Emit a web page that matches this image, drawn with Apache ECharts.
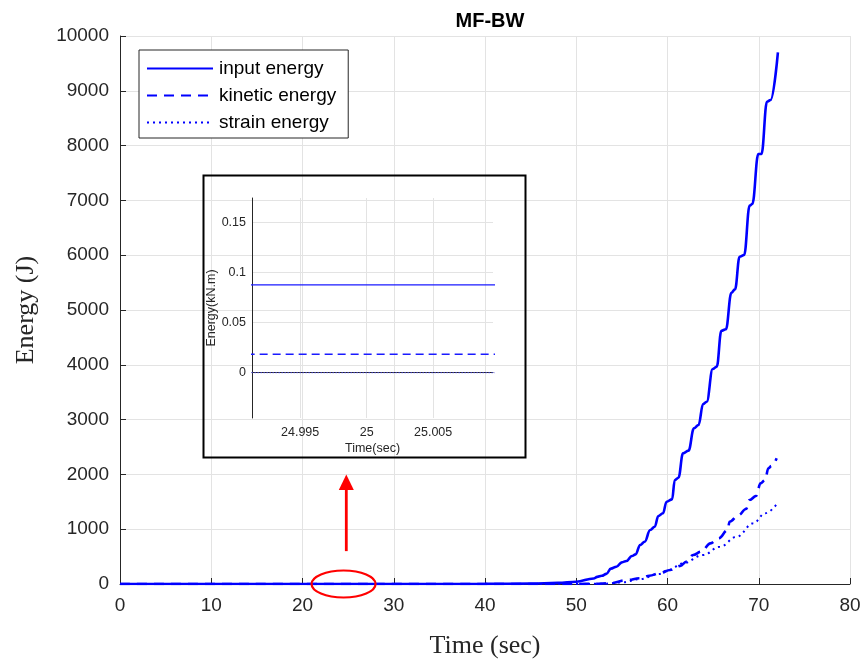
<!DOCTYPE html>
<html><head><meta charset="utf-8">
<script src="https://cdn.jsdelivr.net/npm/echarts@6/dist/echarts.min.js"></script>
<style>html,body{margin:0;padding:0;background:#fff}#c{width:867px;height:664px}</style>
</head><body><div id="c"></div>
<script>
const chartTitle = 'MF-BW';
const seriesNames = ['input energy', 'kinetic energy', 'strain energy'];
const xAxisTitle = 'Time (sec)';
const yAxisTitle = 'Energy (J)';

// main: input energy
const inputT = [0, 20, 40, 45, 48, 50, 51.9, 52.3, 52.8, 53.3, 53.8, 54.4, 55.0, 55.5, 56.1, 56.5, 57.0, 57.5, 58.1, 58.6, 59.0, 59.5, 59.9, 60.5, 60.8, 61.2, 61.7, 62.3, 62.9, 63.4, 63.9, 64.3, 64.95, 65.4, 65.9, 66.4, 67.0, 67.4, 67.9, 68.4, 69.0, 69.3, 69.95, 70.3, 70.9, 71.3, 72.1];
const inputE = [0, 0, 2, 8, 20, 42, 100, 130, 150, 185, 280, 316, 395, 420, 511, 540, 712, 772, 985, 1046, 1241, 1290, 1502, 1545, 1898, 1940, 2385, 2433, 2841, 2901, 3285, 3327, 3923, 3966, 4622, 4648, 5316, 5377, 5973, 6004, 6904, 6934, 7847, 7847, 8801, 8832, 9702];
// main: kinetic energy
const kineticT = [0, 50, 52, 53.7, 55.5, 57.0, 58.0, 59.2, 60.3, 61.4, 62.1, 62.8, 63.7, 64.7, 65.6, 66.6, 66.8, 67.8, 68.6, 69.0, 69.7, 70.2, 70.7, 71.05, 71.4, 71.96];
const kineticE = [0, 0, 5, 15, 70, 105, 150, 200, 255, 330, 410, 530, 590, 742, 833, 985, 1137, 1259, 1368, 1533, 1606, 1837, 1898, 2111, 2153, 2294];
// main: strain energy
const strainT = [0, 50, 53, 55, 57, 59, 60.1, 61.7, 63.9, 65.75, 67.6, 69.4, 70.7, 71.9];
const strainE = [0, 0, 5, 30, 90, 180, 255, 377, 529, 681, 864, 1107, 1290, 1442];

// inset (zoom around t = 25 s)
const insetTitleX = 'Time(sec)';
const insetTitleY = 'Energy(kN.m)';
const insetT = [24.99, 25.01];
const insetInput = [0.0875, 0.0875];
const insetKinetic = [0.0183, 0.0183];
const insetStrain = [0, 0];
const insetXTicks = [24.995, 25, 25.005];
const insetYTicks = [0, 0.05, 0.1, 0.15];

// annotation anchors (data coords)
const ellipseAt = [24.5, 0];
const arrowFrom = [24.8, 600];
const arrowTo = [24.8, 2000];

const zip = (a, b) => a.map((v, i) => [v, b[i]]);
const BLUE = '#0000ff';
const DARK = '#262626';
const GRIDC = '#e3e3e3';

const chart = echarts.init(document.getElementById('c'), null, {renderer: 'canvas'});
const option = {
  backgroundColor: '#fff',
  animation: false,
  title: {
    text: chartTitle, left: 485, top: 6, textAlign: 'center',
    textStyle: {fontFamily: 'Liberation Sans, Arial', fontWeight: 'bold', fontSize: 20, color: '#000'}
  },
  legend: {
    orient: 'vertical', left: 139, top: 50,
    backgroundColor: '#fff', borderColor: DARK, borderWidth: 1,
    padding: [9, 12, 6, 7], itemGap: 8, itemWidth: 66, itemHeight: 20,
    itemStyle: {opacity: 0},
    textStyle: {fontFamily: 'Liberation Sans, Arial', fontSize: 19, color: '#000', padding: [0, 0, 0, 1]},
    data: seriesNames
  },
  grid: [
    {left: 120, right: 17, top: 36, bottom: 80, containLabel: false},
    {left: 252, right: 374, top: 198, bottom: 246, show: true, backgroundColor: '#fff', borderWidth: 0}
  ],
  xAxis: [
    {
      type: 'value', gridIndex: 0, min: 0, max: 80, interval: 10,
      name: xAxisTitle, nameLocation: 'middle', nameGap: 49,
      nameTextStyle: {fontFamily: 'Liberation Serif, Times New Roman', fontSize: 26, color: DARK},
      axisLine: {lineStyle: {color: DARK, width: 1}},
      axisTick: {inside: true, length: 6, lineStyle: {color: DARK}},
      axisLabel: {fontFamily: 'Liberation Sans, Arial', fontSize: 19, color: DARK, margin: 12, formatter: v => String(v)},
      splitLine: {show: true, lineStyle: {color: GRIDC, width: 1}}
    },
    {
      type: 'value', gridIndex: 1, min: 24.99138, max: 25.0095,
      name: insetTitleX, nameLocation: 'middle', nameGap: 24,
      nameTextStyle: {fontFamily: 'Liberation Sans, Arial', fontSize: 12.5, color: DARK},
      axisLine: {lineStyle: {color: DARK, width: 1}},
      axisTick: {show: false, customValues: insetXTicks},
      axisLabel: {customValues: insetXTicks, fontFamily: 'Liberation Sans, Arial', fontSize: 12.5, color: DARK, margin: 8,
        formatter: v => String(+(+v).toFixed(4))},
      splitLine: {show: true, lineStyle: {color: GRIDC, width: 1}}
    }
  ],
  yAxis: [
    {
      type: 'value', gridIndex: 0, min: 0, max: 10000, interval: 1000,
      name: yAxisTitle, nameLocation: 'middle', nameGap: 81,
      nameTextStyle: {fontFamily: 'Liberation Serif, Times New Roman', fontSize: 26, color: DARK},
      axisLine: {show: true, lineStyle: {color: DARK, width: 1}},
      axisTick: {show: true, inside: true, length: 6, lineStyle: {color: DARK}},
      axisLabel: {fontFamily: 'Liberation Sans, Arial', fontSize: 19, color: DARK, margin: 11, formatter: v => String(v)},
      splitLine: {show: true, lineStyle: {color: GRIDC, width: 1}}
    },
    {
      type: 'value', gridIndex: 1, min: -0.0452, max: 0.174,
      name: insetTitleY, nameLocation: 'middle', nameGap: 34,
      nameTextStyle: {fontFamily: 'Liberation Sans, Arial', fontSize: 12.5, color: DARK},
      axisLine: {show: true, lineStyle: {color: DARK, width: 1}},
      axisTick: {show: false, customValues: insetYTicks},
      axisLabel: {customValues: insetYTicks, fontFamily: 'Liberation Sans, Arial', fontSize: 12.5, color: DARK, margin: 6,
        formatter: v => String(+(+v).toFixed(3))},
      splitLine: {show: true, lineStyle: {color: GRIDC, width: 1}}
    }
  ],
  series: [
    {name: seriesNames[0], type: 'line', xAxisIndex: 0, yAxisIndex: 0, data: zip(inputT, inputE),
      showSymbol: false, symbol: 'none', smooth: 0.4, smoothMonotone: 'x',
      lineStyle: {color: BLUE, width: 2.6, type: 'solid'}, itemStyle: {color: BLUE}, z: 3},
    {name: seriesNames[1], type: 'line', xAxisIndex: 0, yAxisIndex: 0, data: zip(kineticT, kineticE),
      showSymbol: false, symbol: 'none', smooth: 0.4, smoothMonotone: 'x',
      lineStyle: {color: BLUE, width: 2.6, type: [10, 7]}, itemStyle: {color: BLUE}, z: 3},
    {name: seriesNames[2], type: 'line', xAxisIndex: 0, yAxisIndex: 0, data: zip(strainT, strainE),
      showSymbol: false, symbol: 'none', smooth: 0.4, smoothMonotone: 'x',
      lineStyle: {color: BLUE, width: 2, type: [2, 4]}, itemStyle: {color: BLUE}, z: 3},
    {name: 'inset-input', type: 'line', xAxisIndex: 1, yAxisIndex: 1, data: zip(insetT, insetInput),
      showSymbol: false, symbol: 'none', clip: true, lineStyle: {color: '#1a1aff', width: 1.3}, z: 5},
    {name: 'inset-kinetic', type: 'line', xAxisIndex: 1, yAxisIndex: 1, data: zip(insetT, insetKinetic),
      showSymbol: false, symbol: 'none', clip: true, lineStyle: {color: '#1a1aff', width: 1.6, type: [8, 5]}, z: 5},
    {name: 'inset-strain', type: 'line', xAxisIndex: 1, yAxisIndex: 1, data: zip(insetT, insetStrain),
      showSymbol: false, symbol: 'none', clip: true, lineStyle: {color: '#4d4dff', width: 1.2, type: [1, 2]}, z: 5}
  ]
};
chart.setOption(option);

const ec = chart.convertToPixel({gridIndex: 0}, ellipseAt);
const af = chart.convertToPixel({gridIndex: 0}, arrowFrom);
const at = chart.convertToPixel({gridIndex: 0}, arrowTo);
chart.setOption({
  graphic: [
    {type: 'rect', shape: {x: 203.5, y: 175.5, width: 322, height: 282}, style: {fill: 'none', stroke: '#000', lineWidth: 2}, z: 20},
    {type: 'ellipse', shape: {cx: ec[0], cy: ec[1], rx: 32, ry: 13.5}, style: {fill: 'none', stroke: '#ff0000', lineWidth: 2.2}, z: 20},
    {type: 'line', shape: {x1: af[0], y1: af[1], x2: at[0], y2: at[1] + 15}, style: {stroke: '#ff0000', lineWidth: 2.8}, z: 20},
    {type: 'polygon', shape: {points: [[at[0], at[1]], [at[0] - 7.5, at[1] + 15.5], [at[0] + 7.5, at[1] + 15.5]]}, style: {fill: '#ff0000'}, z: 20}
  ]
});
</script></body></html>
